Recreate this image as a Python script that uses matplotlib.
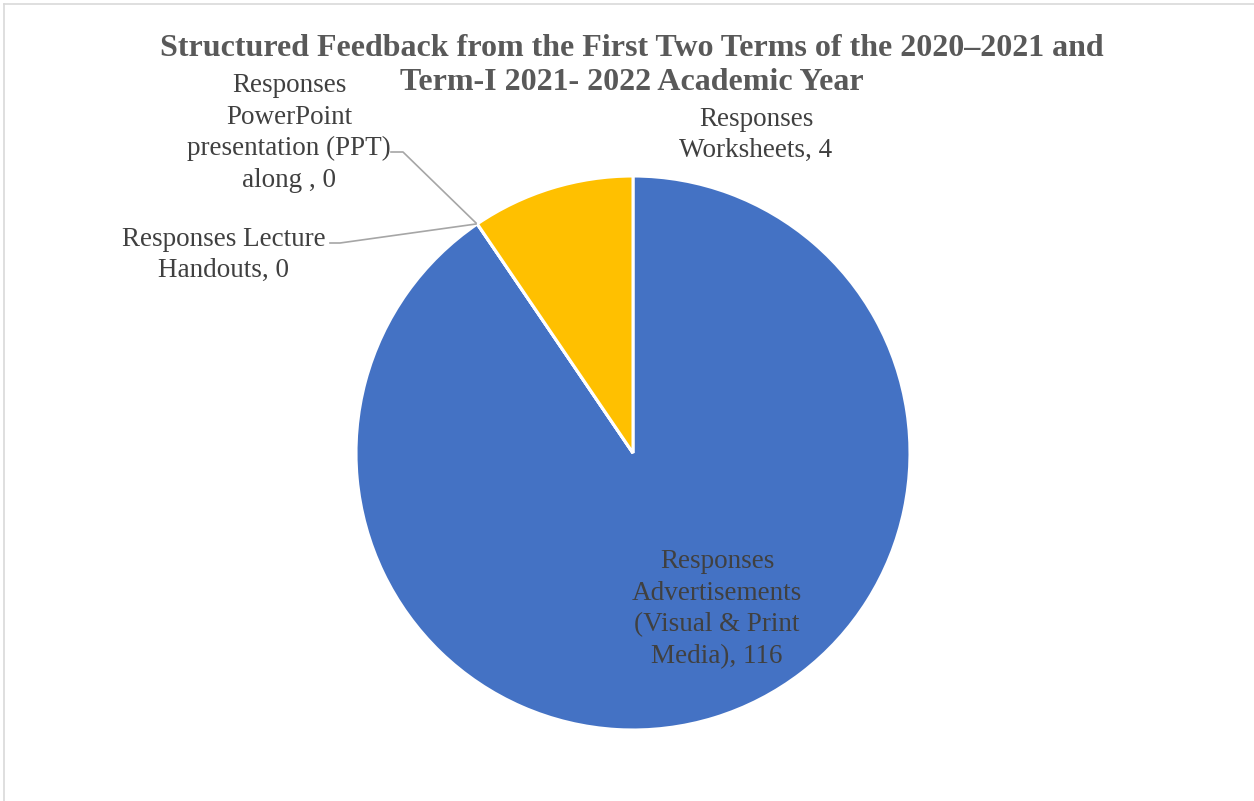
import matplotlib
matplotlib.use("Agg")
import matplotlib.pyplot as plt

# ---- data ----
categories = ["Advertisements (Visual & Print Media)", "Lecture Handouts",
              "PowerPoint presentation (PPT) along ", "Worksheets"]
responses = [116, 0, 0, 4]              # values shown in the labels
wedge_share = [90.5, 0.0, 0.0, 9.5]     # slice sizes as drawn in the picture (%)
colors = ["#4472C4", "#ED7D31", "#A5A5A5", "#FFC000"]
title_lines = ["Structured Feedback from the First Two Terms of the 2020\u20132021 and",
               "Term-I 2021- 2022 Academic Year"]

W, H = 1254, 801
fig = plt.figure(figsize=(W / 100, H / 100), dpi=100)
ax = fig.add_axes([0, 0, 1, 1])

def Y(py):
    return H - py

serif = ["Liberation Serif", "DejaVu Serif"]

ax.pie(wedge_share, colors=colors, startangle=90, counterclock=False,
       center=(633, Y(453)), radius=277, frame=True,
       wedgeprops=dict(edgecolor="white", linewidth=2.2))
ax.set_xlim(0, W)
ax.set_ylim(0, H)
ax.set_aspect("equal")
ax.axis("off")

# chart frame (top and left edges visible)
ax.plot([4, 4], [Y(4), 0], color="#D9D9D9", lw=1.2)
ax.plot([4, W], [Y(4), Y(4)], color="#D9D9D9", lw=1.2)

for i, line in enumerate(title_lines):
    ax.text(632, Y(48 + 35 * i), line, ha="center", va="center", fontsize=23,
            fontweight="bold", color="#595959", family=serif)

lab_kw = dict(ha="center", va="center", fontsize=19.5, color="#404040",
              family=serif, linespacing=1.35)

ax.text(717, Y(609), "Responses\nAdvertisements\n(Visual & Print\nMedia), %d" % responses[0], **lab_kw)
ax.text(224, Y(255), "Responses Lecture\nHandouts, %d" % responses[1], **lab_kw)
ax.text(289, Y(133), "Responses\nPowerPoint\npresentation (PPT)\nalong , %d" % responses[2], **lab_kw)
ax.text(756, Y(135), "Responses\nWorksheets, %d" % responses[3], **lab_kw)

# leader lines
ax.plot([330, 340, 476], [Y(243), Y(243), Y(224)], color="#A6A6A6", lw=1.2)
ax.plot([391, 403, 476], [Y(152), Y(152), Y(223)], color="#A6A6A6", lw=1.2)

fig.savefig("out.png", dpi=100, facecolor="white")
